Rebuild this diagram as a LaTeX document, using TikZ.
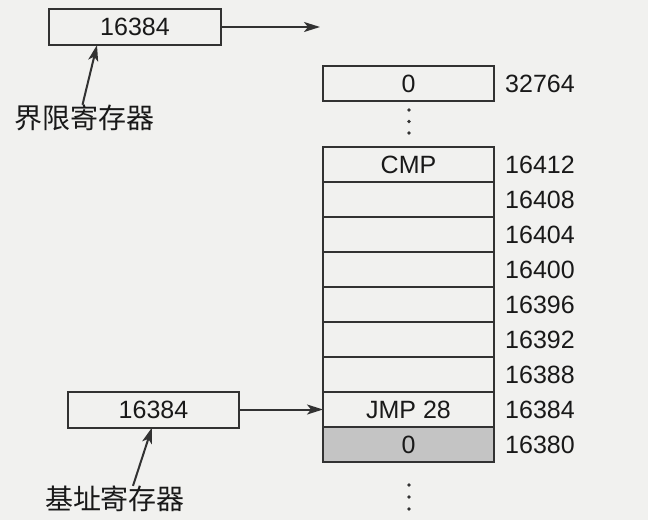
\documentclass[tikz,border=0pt]{standalone}
\usepackage{fontspec}
\setmainfont{Liberation Sans}
\newfontfamily\cjk{Noto Sans CJK SC}
\usetikzlibrary{positioning}
\usetikzlibrary{arrows.meta}
\definecolor{ink}{RGB}{50,50,50}
\definecolor{paper}{RGB}{241,241,239}
\definecolor{shade}{RGB}{196,196,196}

\begin{document}
\begin{tikzpicture}[x=1pt, y=-1pt,
		reg/.style={draw=ink, line width=2pt, minimum width=172pt, minimum height=36pt, inner sep=0pt, outer sep=0pt, text=ink!50!black, font=\fontsize{25}{30}\selectfont},
		cell/.style={reg, minimum width=171pt, minimum height=35pt},
		addr/.style={inner sep=0pt, text=ink!50!black, font=\fontsize{25}{30}\selectfont},
		regname/.style={inner sep=0pt, text=ink!50!black, font=\cjk\fontsize{28}{32}\selectfont},
		arr/.style={-{Stealth[length=16pt,width=10pt,inset=4pt]}, draw=ink, line width=2pt}]
			\fill[paper] (0,0) rectangle (648,520);
			% registers
			\node[reg] (limreg) at (135,27) {16384};
			\node[reg, minimum width=171pt] (basereg) at (153.5,409.5) {16384};
			\node[regname] (limname) at (84.5,118) {界限寄存器};
			\node[regname] (basename) at (115,499) {基址寄存器};
			% memory
			\node[cell] (top) at (408.5,83.5) {0};
			\node[cell] (cmp) at (408.5,164.5) {CMP};
			\node[cell, below=0pt of cmp] (c16408) {};
			\node[cell, below=0pt of c16408] (c16404) {};
			\node[cell, below=0pt of c16404] (c16400) {};
			\node[cell, below=0pt of c16400] (c16396) {};
			\node[cell, below=0pt of c16396] (c16392) {};
			\node[cell, below=0pt of c16392] (c16388) {};
			\node[cell, below=0pt of c16388] (jmp) {JMP 28};
			\node[cell, fill=shade, below=0pt of jmp] (zero) {0};
			% addresses
			\node[addr, right=11pt of top] (a32764) {32764};
			\node[addr, right=11pt of cmp] (a16412) {16412};
			\node[addr, right=11pt of c16408] (a16408) {16408};
			\node[addr, right=11pt of c16404] (a16404) {16404};
			\node[addr, right=11pt of c16400] (a16400) {16400};
			\node[addr, right=11pt of c16396] (a16396) {16396};
			\node[addr, right=11pt of c16392] (a16392) {16392};
			\node[addr, right=11pt of c16388] (a16388) {16388};
			\node[addr, right=11pt of jmp] (a16384) {16384};
			\node[addr, right=11pt of zero] (a16380) {16380};
			\foreach \y in {110,121.5,133,485,497,509}
				\fill[ink] (409,\y) circle (1.8pt);
			% arrows
			\coordinate (limend) at (320,27);
			\draw[arr] (limreg) -- (limend);
			\draw[arr] (basereg) -- (jmp);
			\draw[arr] ([xshift=-2pt]limname.north) -- ([xshift=-38pt]limreg.south);
			\draw[arr] ([xshift=18pt]basename.north) -- ([xshift=-1.5pt]basereg.south);
		\end{tikzpicture}
\end{document}
